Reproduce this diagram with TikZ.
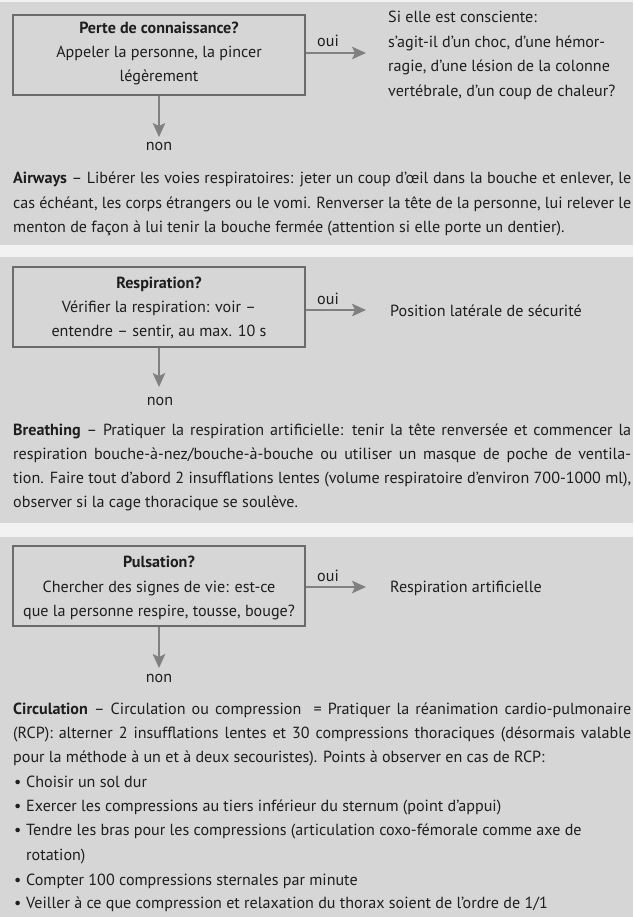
\documentclass[tikz,border=0pt]{standalone}
\usepackage{fontspec}
\setmainfont{PT Sans}
\usetikzlibrary{arrows.meta}
\definecolor{panel}{HTML}{D6D6D6}
\definecolor{gap}{HTML}{F2F2F2}
\definecolor{boxc}{HTML}{6B6B6B}
\definecolor{arrc}{HTML}{808080}
\definecolor{ink}{HTML}{1E1E1E}
\newcommand\jl[1]{\makebox[618pt][s]{#1}}
\begin{document}
\begin{tikzpicture}[x=1pt,y=-1pt,
  every node/.style={font=\fontsize{16.1pt}{24.3pt}\selectfont, inner sep=0pt, text=ink},
  qbox/.style={draw=boxc, line width=2pt, minimum width=292pt, minimum height=80pt},
  ctr/.style={anchor=base},
  txt/.style={anchor=base west},
  arr/.style={draw=arrc, line width=2pt, -{Stealth[length=14pt,width=12.5pt,inset=3pt]}}]
\useasboundingbox (0,0) rectangle (633,917);
\fill[gap] (0,0) rectangle (633,917);
\fill[panel] (0,2) rectangle (633,245);
\fill[panel] (0,257) rectangle (633,523);
\fill[panel] (0,537) rectangle (633,917);
% ---------- panel 1
\node[qbox] (b1) at (159,55.5) {};
\node[ctr] (b1t) at (159,34) {\textbf{Perte de connaissance?}};
\node[ctr] (b1u) at (159,58) {Appeler la personne, la pincer};
\node[ctr] (b1v) at (159,82) {légèrement};
\coordinate (o1) at (366,53);
\draw[arr] (o1 -| b1.east) -- (o1);
\node[ctr] (y1) at (328,47) {oui};
\node[txt] (r1a) at (388,23) {Si elle est consciente:};
\node[txt] (r1b) at (388,47.5) {s’agit-il d’un choc, d’une hémor-};
\node[txt] (r1c) at (388,72) {ragie, d’une lésion de la colonne};
\node[txt] (r1d) at (388,96.5) {vertébrale, d’un coup de chaleur?};
\coordinate (d1) at (159,137);
\draw[arr] (b1.south -| d1) -- (d1);
\node[ctr] (n1) at (159,151) {non};
\node[txt] (p1a) at (13,184) {\jl{\textbf{Airways} – Libérer les voies respiratoires: jeter un coup d’œil dans la bouche et enlever, le}};
\node[txt] (p1b) at (13,208.5) {\jl{cas échéant, les corps étrangers ou le vomi. Renverser la tête de la personne, lui relever le}};
\node[txt] (p1c) at (13,233) {menton de façon à lui tenir la bouche fermée (attention si elle porte un dentier).};
% ---------- panel 2
\node[qbox] (b2) at (159,306.5) {};
\node[ctr] (b2t) at (159,288) {\textbf{Respiration?}};
\node[ctr] (b2u) at (159,312) {Vérifier la respiration: voir –};
\node[ctr] (b2v) at (159,336) {entendre – sentir, au max. 10 s};
\coordinate (o2) at (366,310);
\draw[arr] (o2 -| b2.east) -- (o2);
\node[ctr] (y2) at (328,304) {oui};
\node[txt] (r2) at (390,316) {Position latérale de sécurité};
\coordinate (d2) at (159,387);
\draw[arr] (b2.south -| d2) -- (d2);
\node[ctr] (n2) at (160,405) {non};
\node[txt] (p2a) at (13,435) {\jl{\textbf{Breathing} – Pratiquer la respiration artificielle: tenir la tête renversée et commencer la}};
\node[txt] (p2b) at (13,459) {\jl{respiration bouche-à-nez/bouche-à-bouche ou utiliser un masque de poche de ventila-}};
\node[txt] (p2c) at (13,483) {\jl{tion. Faire tout d’abord 2 insufflations lentes (volume respiratoire d’environ 700-1000 ml),}};
\node[txt] (p2d) at (13,507) {observer si la cage thoracique se soulève.};
% ---------- panel 3
\node[qbox] (b3) at (159,586) {};
\node[ctr] (b3t) at (159,567) {\textbf{Pulsation?}};
\node[ctr] (b3u) at (159,592) {Chercher des signes de vie: est-ce};
\node[ctr] (b3v) at (159,616) {que la personne respire, tousse, bouge?};
\coordinate (o3) at (366,587);
\draw[arr] (o3 -| b3.east) -- (o3);
\node[ctr] (y3) at (328,581) {oui};
\node[txt] (r3) at (390,592) {Respiration artificielle};
\coordinate (d3) at (159,668);
\draw[arr] (b3.south -| d3) -- (d3);
\node[ctr] (n3) at (159,682) {non};
\node[txt] (p3a) at (13,714) {\jl{\textbf{Circulation} – Circulation ou compression \ = Pratiquer la réanimation cardio-pulmonaire}};
\node[txt] (p3b) at (13,738) {\jl{(RCP): alterner 2 insufflations lentes et 30 compressions thoraciques (désormais valable}};
\node[txt] (p3c) at (13,762) {pour la méthode à un et à deux secouristes). Points à observer en cas de RCP:};
\node[txt] (u1) at (14,787) {•};
\node[txt] (v1) at (26,787) {Choisir un sol dur};
\node[txt] (u2) at (14,811) {•};
\node[txt] (v2) at (26,811) {Exercer les compressions au tiers inférieur du sternum (point d’appui)};
\node[txt] (u3) at (14,835) {•};
\node[txt] (v3) at (26,835) {Tendre les bras pour les compressions (articulation coxo-fémorale comme axe de};
\node[txt] (v3b) at (26,860) {rotation)};
\node[txt] (u4) at (14,885) {•};
\node[txt] (v4) at (26,885) {Compter 100 compressions sternales par minute};
\node[txt] (u5) at (14,908) {•};
\node[txt] (v5) at (26,908) {Veiller à ce que compression et relaxation du thorax soient de l’ordre de 1/1};
\end{tikzpicture}
\end{document}
